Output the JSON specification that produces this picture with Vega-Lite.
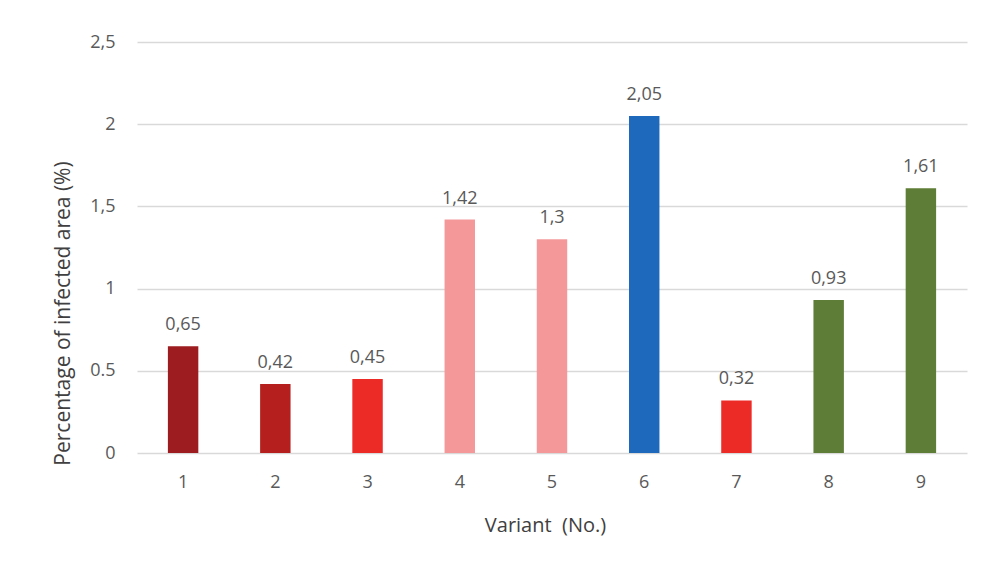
{
  "$schema": "https://vega.github.io/schema/vega-lite/v6.json",
  "width": 830,
  "height": 411,
  "autosize": "none",
  "padding": {"left": 137, "top": 42, "right": 19, "bottom": 110},
  "background": "white",
  "config": {
    "font": "Open Sans",
    "view": {"stroke": null},
    "locale": {"number": {"decimal": ",", "thousands": ".", "grouping": [3], "currency": ["", " €"]}}
  },
  "data": {
    "values": [
      {"variant": "1", "value": 0.65, "color": "#9C1C1F"},
      {"variant": "2", "value": 0.42, "color": "#B5201F"},
      {"variant": "3", "value": 0.45, "color": "#EC2A26"},
      {"variant": "4", "value": 1.42, "color": "#F4989A"},
      {"variant": "5", "value": 1.3, "color": "#F4989A"},
      {"variant": "6", "value": 2.05, "color": "#1F69BD"},
      {"variant": "7", "value": 0.32, "color": "#EC2A26"},
      {"variant": "8", "value": 0.93, "color": "#5E7D36"},
      {"variant": "9", "value": 1.61, "color": "#5E7D36"}
    ]
  },
  "encoding": {
    "x": {
      "field": "variant",
      "type": "ordinal",
      "sort": null,
      "scale": {"paddingInner": 0.67, "paddingOuter": 0.335},
      "axis": {
        "title": "Variant\u00a0 (No.)",
        "titleFontSize": 20,
        "titleFontWeight": "normal",
        "titleColor": "#404040",
        "titleX": 408,
        "titleY": 72,
        "titleBaseline": "middle",
        "titleAlign": "center",
        "labelAngle": 0,
        "labelFontSize": 18,
        "labelColor": "#595959",
        "labelPadding": 20,
        "ticks": false,
        "domain": false
      }
    },
    "y": {
      "field": "value",
      "type": "quantitative",
      "scale": {"domain": [0, 2.5]},
      "axis": {
        "title": "Percentage of infected area (%)",
        "titleFontSize": 21,
        "titleFontWeight": "normal",
        "titleColor": "#404040",
        "titleX": -74,
        "titleY": 271,
        "titleAngle": -90,
        "titleBaseline": "middle",
        "titleAlign": "center",
        "values": [0, 0.5, 1, 1.5, 2, 2.5],
        "format": "~g",
        "labelExpr": "datum.value == 0.5 ? '0.5' : datum.label",
        "labelFontSize": 18,
        "labelColor": "#595959",
        "labelPadding": 22,
        "ticks": false,
        "domain": false,
        "gridColor": "#D9D9D9",
        "gridWidth": 1.5
      }
    }
  },
  "layer": [
    {
      "mark": {"type": "bar"},
      "encoding": {
        "color": {"field": "color", "type": "nominal", "scale": null, "legend": null}
      }
    },
    {
      "mark": {"type": "text", "baseline": "bottom", "dy": -12, "fontSize": 18, "color": "#595959"},
      "encoding": {
        "text": {"field": "value", "type": "quantitative", "format": "~g"}
      }
    }
  ]
}
